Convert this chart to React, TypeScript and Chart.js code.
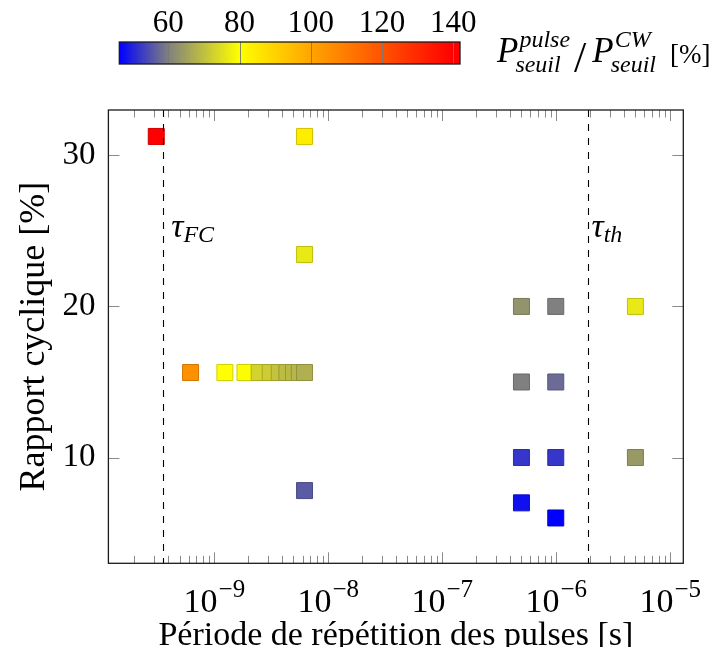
import React, { useEffect, useRef } from 'react';
import { Chart, registerables } from 'chart.js';
Chart.register(...registerables);

const FAMILY = '"Liberation Serif", "Times New Roman", serif';

// ---- data ----
const periods = [3.125e-10, 6.25e-9, 6.25e-9, 6.25e-9, 6.25e-10, 1.25e-9, 1.875e-9, 2.5e-9, 3.125e-9, 3.75e-9, 4.375e-9, 5e-9, 5.625e-9, 6.25e-9, 5e-7, 5e-7, 5e-7, 5e-7, 1e-6, 1e-6, 1e-6, 1e-6, 5e-6, 5e-6];
const dutyCycle = [31.25, 31.25, 23.4375, 7.8125, 15.625, 15.625, 15.625, 15.625, 15.625, 15.625, 15.625, 15.625, 15.625, 15.625, 20, 15, 10, 7, 20, 15, 10, 6, 20, 10];
const thresholdRatio = [141.9, 84, 76.5, 56, 105, 80, 79.5, 73, 72, 70.5, 69.5, 69, 68.5, 67.5, 63, 60, 52, 48, 60, 57.7, 52, 46.25, 76.5, 64];

const xDecades = [-10, -9, -8, -7, -6, -5];
const xLabelExponents = [-9, -8, -7, -6, -5];
const yTicks = [10, 20, 30];
const colorbarTicks = [60, 80, 100, 120, 140];

const tauFC = 3.6e-10;
const tauTh = 1.9e-6;
const tauLabelLevel = 24.6;

const xMin = Math.pow(10, -9.925);
const xMax = Math.pow(10, -4.881);
const yMin = 3;
const yMax = 33;

const cMin = 46.25;
const cMax = 141.9;
const cmapValues = [46.25, 60, 80, 100, 140, 141.9];
const cmapColors = [[0, 0, 255], [128, 128, 128], [255, 255, 0], [255, 165, 0], [255, 0, 0], [255, 0, 0]];

function mapColor(v: number): number[] {
  if (v <= cmapValues[0]) return cmapColors[0];
  for (let i = 0; i < cmapValues.length - 1; i++) {
    if (v <= cmapValues[i + 1]) {
      const t = (v - cmapValues[i]) / (cmapValues[i + 1] - cmapValues[i]);
      const a = cmapColors[i], b = cmapColors[i + 1];
      return [0, 1, 2].map(k => a[k] + (b[k] - a[k]) * t);
    }
  }
  return cmapColors[cmapColors.length - 1];
}
const rgb = (c: number[], f = 1) => `rgb(${Math.round(c[0] * f)},${Math.round(c[1] * f)},${Math.round(c[2] * f)})`;

const xTickList: { value: number; major: boolean }[] = [];
xDecades.forEach(d => {
  for (let m = 1; m <= 9; m++) {
    const v = m * Math.pow(10, d);
    if (v > xMin && v < xMax) xTickList.push({ value: v, major: m === 1 });
  }
});

const font = (size: number, italic = false) => `${italic ? 'italic ' : ''}${size}px ${FAMILY}`;

const framePlugin = {
  id: 'frame',
  afterDatasetsDraw(chart: any) {
    const { ctx, chartArea: a, scales } = chart;
    const x = scales.x, y = scales.y;
    ctx.save();
    // dashed threshold lines
    ctx.strokeStyle = '#000';
    ctx.lineWidth = 1.1;
    ctx.setLineDash([7, 7]);
    [tauFC, tauTh].forEach(v => {
      const px = Math.round(x.getPixelForValue(v)) + 0.5;
      ctx.beginPath();
      ctx.moveTo(px, a.top);
      ctx.lineTo(px, a.bottom);
      ctx.stroke();
    });
    ctx.setLineDash([]);
    // inward ticks
    ctx.strokeStyle = '#8a8a8a';
    ctx.lineWidth = 1;
    x.ticks.forEach((t: any) => {
      const px = Math.round(x.getPixelForValue(t.value)) + 0.5;
      const len = t.major ? 11 : 7.5;
      ctx.beginPath();
      ctx.moveTo(px, a.bottom);
      ctx.lineTo(px, a.bottom - len);
      ctx.moveTo(px, a.top);
      ctx.lineTo(px, a.top + len);
      ctx.stroke();
    });
    y.ticks.forEach((t: any) => {
      const py = Math.round(y.getPixelForValue(t.value)) + 0.5;
      ctx.beginPath();
      ctx.moveTo(a.left, py);
      ctx.lineTo(a.left + 11, py);
      ctx.moveTo(a.right, py);
      ctx.lineTo(a.right - 11, py);
      ctx.stroke();
    });
    // frame
    ctx.strokeStyle = '#1a1a1a';
    ctx.lineWidth = 1.3;
    ctx.strokeRect(a.left, a.top, a.right - a.left, a.bottom - a.top);
    // tau labels
    ctx.fillStyle = '#000';
    ctx.textBaseline = 'alphabetic';
    ctx.textAlign = 'left';
    const ly = y.getPixelForValue(tauLabelLevel);
    const drawTau = (v: number, dx: number, sub: string) => {
      const px = x.getPixelForValue(v) + dx;
      ctx.font = font(34, true);
      ctx.fillText('τ', px, ly);
      const w = ctx.measureText('τ').width;
      ctx.font = font(24, true);
      ctx.fillText(sub, px + w, ly + 5);
    };
    drawTau(tauFC, 8, 'FC');
    drawTau(tauTh, 4, 'th');
    ctx.restore();
  },
  afterDraw(chart: any) {
    const { ctx, chartArea: a, scales } = chart;
    const x = scales.x;
    ctx.save();
    ctx.fillStyle = '#000';
    ctx.textBaseline = 'alphabetic';
    ctx.textAlign = 'left';
    xLabelExponents.forEach(e => {
      const px = x.getPixelForValue(Math.pow(10, e));
      ctx.font = font(34);
      const w1 = ctx.measureText('10').width;
      const exp = '\u2212' + Math.abs(e);
      ctx.font = font(25);
      const w2 = ctx.measureText(exp).width;
      const x0 = px - (w1 + w2) / 2;
      ctx.font = font(34);
      ctx.fillText('10', x0, a.bottom + 49);
      ctx.font = font(25);
      ctx.fillText(exp, x0 + w1 + 1, a.bottom + 34);
    });
    ctx.restore();
  },
};

const colorbarPlugin = {
  id: 'cbar',
  beforeDatasetsDraw(chart: any) {
    const { ctx, chartArea: a, scales } = chart;
    const x = scales.x;
    ctx.save();
    const g = ctx.createLinearGradient(a.left, 0, a.right, 0);
    cmapValues.forEach((v, i) => {
      const p = Math.min(1, Math.max(0, (x.getPixelForValue(v) - a.left) / (a.right - a.left)));
      g.addColorStop(p, rgb(cmapColors[i]));
    });
    ctx.fillStyle = g;
    ctx.fillRect(a.left, a.top, a.right - a.left, a.bottom - a.top);
    ctx.strokeStyle = 'rgba(120,120,120,0.9)';
    ctx.lineWidth = 1;
    x.ticks.forEach((t: any) => {
      const px = Math.round(x.getPixelForValue(t.value)) + 0.5;
      ctx.beginPath();
      ctx.moveTo(px, a.top);
      ctx.lineTo(px, a.bottom);
      ctx.stroke();
    });
    ctx.strokeStyle = '#1a1a1a';
    ctx.lineWidth = 1.3;
    ctx.strokeRect(a.left, a.top, a.right - a.left, a.bottom - a.top);
    ctx.restore();
  },
  afterDraw(chart: any) {
    const { ctx } = chart;
    ctx.save();
    ctx.fillStyle = '#000';
    ctx.textBaseline = 'alphabetic';
    ctx.textAlign = 'left';
    const base = 54;
    let cx = 489;
    const pWithScripts = (sup: string) => {
      ctx.font = font(35, true);
      ctx.fillText('P', cx, base);
      const wp = ctx.measureText('P').width;
      ctx.font = font(24, true);
      const ws = ctx.measureText(sup).width;
      const wb = ctx.measureText('seuil').width;
      ctx.fillText(sup, cx + wp + 1, base - 15);
      ctx.fillText('seuil', cx + wp - 3, base + 10);
      cx += wp + Math.max(ws + 1, wb - 3);
    };
    pWithScripts('pulse');
    cx += 4;
    ctx.font = font(44);
    ctx.fillText('/', cx, base + 10);
    cx += ctx.measureText('/').width + 6;
    pWithScripts('CW');
    cx += 14;
    ctx.font = font(27);
    ctx.fillText('[%]', cx, base + 1);
    ctx.restore();
  },
};

export default function App() {
  const mainRef = useRef<HTMLCanvasElement>(null);
  const cbRef = useRef<HTMLCanvasElement>(null);

  useEffect(() => {
    const points = periods.map((p, i) => ({ x: p, y: dutyCycle[i] }));
    const fills = thresholdRatio.map(v => rgb(mapColor(v)));
    const borders = thresholdRatio.map(v => rgb(mapColor(v), 0.82));

    const main = new Chart(mainRef.current as HTMLCanvasElement, {
      type: 'scatter',
      data: {
        datasets: [{
          data: points,
          pointStyle: 'rect',
          pointRadius: 11.3,
          pointHoverRadius: 11.3,
          backgroundColor: fills,
          borderColor: borders,
          borderWidth: 1,
        }],
      },
      options: {
        animation: false,
        responsive: false,
        layout: { padding: { top: 102, right: 31.7, left: 0, bottom: 0 } },
        plugins: { legend: { display: false }, tooltip: { enabled: false } },
        scales: {
          x: {
            type: 'logarithmic',
            position: 'bottom',
            min: xMin,
            max: xMax,
            afterBuildTicks: (s: any) => { s.ticks = xTickList.map(t => ({ ...t })); },
            ticks: { display: false },
            grid: { display: false, drawTicks: false },
            border: { display: false },
            title: {
              display: true,
              text: 'Période de répétition des pulses [s]',
              color: '#000',
              font: { family: FAMILY, size: 34, lineHeight: 1.2 },
              padding: { top: 0, bottom: -9.4 },
            },
            afterFit: (s: any) => { s.height = 83.7; },
          },
          y: {
            type: 'linear',
            min: yMin,
            max: yMax,
            afterBuildTicks: (s: any) => { s.ticks = yTicks.map(v => ({ value: v })); },
            ticks: { color: '#000', font: { family: FAMILY, size: 33 }, padding: 13 },
            grid: { display: false, drawTicks: false },
            border: { display: false },
            title: {
              display: true,
              text: 'Rapport cyclique [%]',
              color: '#000',
              font: { family: FAMILY, size: 36, lineHeight: 1.2 },
              padding: { top: 5.4, bottom: 0 },
            },
            afterFit: (s: any) => { s.width = 100.4; },
          },
        },
      } as any,
      plugins: [framePlugin],
    });

    const cb = new Chart(cbRef.current as HTMLCanvasElement, {
      type: 'scatter',
      data: { datasets: [] },
      options: {
        animation: false,
        responsive: false,
        layout: { padding: { top: 0, left: 111.3, right: 255, bottom: 44 } },
        plugins: { legend: { display: false }, tooltip: { enabled: false } },
        scales: {
          x: {
            type: 'linear',
            position: 'top',
            min: cMin,
            max: cMax,
            afterBuildTicks: (s: any) => { s.ticks = colorbarTicks.map(v => ({ value: v })); },
            ticks: { color: '#000', font: { family: FAMILY, size: 31 }, padding: 0, maxRotation: 0 },
            grid: { display: false, drawTicks: false },
            border: { display: false },
            afterFit: (s: any) => { s.height = 34; },
          },
          y: { display: false, min: 0, max: 1 },
        },
      } as any,
      plugins: [colorbarPlugin],
    });

    return () => { main.destroy(); cb.destroy(); };
  }, []);

  return (
    <div style={{ position: 'relative', width: 707, height: 639 }}>
      <canvas ref={mainRef} width={707} height={639} style={{ position: 'absolute', left: 0, top: 0, width: 707, height: 639 }} />
      <canvas ref={cbRef} width={707} height={100} style={{ position: 'absolute', left: 0, top: 0, width: 707, height: 100 }} />
    </div>
  );
}
